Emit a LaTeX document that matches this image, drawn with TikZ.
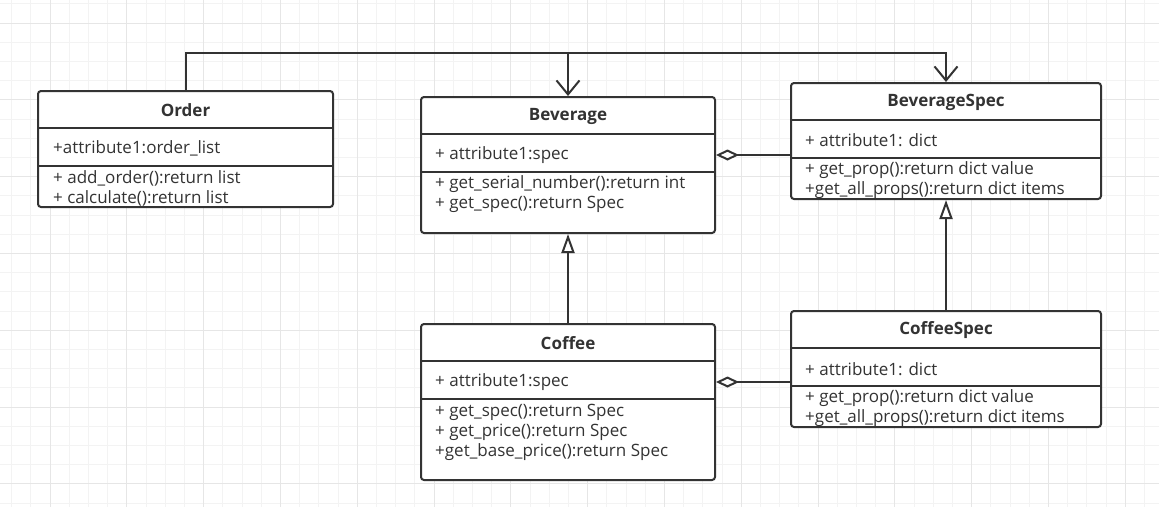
\documentclass[tikz,border=0pt]{standalone}
\usepackage{fontspec}
\setmainfont{Open Sans}
\usetikzlibrary{arrows.meta}
\definecolor{ink}{HTML}{333333}
\definecolor{gridMinor}{HTML}{F3F3F3}
\definecolor{gridMajor}{HTML}{E6E6E6}

\begin{document}
\begin{tikzpicture}[x=1pt,y=-1pt,
	classbox/.style={draw=ink, line width=2pt, rounded corners=3pt, fill=white, inner sep=0pt},
	clsname/.style={font=\fontsize{17}{19}\selectfont\bfseries, text=ink, inner sep=0pt},
	member/.style={font=\fontsize{17}{19}\selectfont, text=ink, anchor=west, inner sep=0pt},
	divider/.style={draw=ink, line width=2pt},
	assoc/.style={draw=ink, line width=2pt, -{Straight Barb[length=14pt,width=23pt]}},
	inherit/.style={draw=ink, line width=2pt, -{Triangle[open,length=19pt,width=13pt,fill=white]}},
	aggr/.style={draw=ink, line width=2pt, -{Diamond[open,length=23pt,width=11pt,fill=white]}}]

	\useasboundingbox (0,0) rectangle (1159,507);
	\fill[white] (0,0) rectangle (1159,507);
	\foreach \i in {0,...,60} \draw[gridMinor, line width=1pt] ({11.6+19.2*\i},0) -- ({11.6+19.2*\i},507);
	\foreach \i in {0,...,26} \draw[gridMinor, line width=1pt] (0,{3.8+19.2*\i}) -- (1159,{3.8+19.2*\i});
	\foreach \i in {0,...,15} \draw[gridMajor, line width=1pt] ({50+76.8*\i},0) -- ({50+76.8*\i},507);
	\foreach \i in {0,...,6} \draw[gridMajor, line width=1pt] (0,{23+76.8*\i}) -- (1159,{23+76.8*\i});

	\node[classbox, minimum width=295pt, minimum height=116pt] (order) at (185.5,149) {};
	\node[classbox, minimum width=294pt, minimum height=136pt] (bev) at (568,165) {};
	\node[classbox, minimum width=310pt, minimum height=116pt] (bspec) at (946,141) {};
	\node[classbox, minimum width=294pt, minimum height=156pt] (cof) at (568,402) {};
	\node[classbox, minimum width=310pt, minimum height=116pt] (cspec) at (946,369) {};

	\foreach \c in {order,bev,bspec,cof,cspec} {
		\draw[divider] ([yshift=-38pt]\c.north west) -- ([yshift=-38pt]\c.north east);
		\draw[divider] ([yshift=-76pt]\c.north west) -- ([yshift=-76pt]\c.north east);
	}

	\node[clsname] (lblOrder) at (185.5,110) {Order};
	\node[member] (ordAttr) at (53,148) {+attribute1:order\_list};
	\node[member] (ordM1) at (53,178) {+ add\_order():return list};
	\node[member] (ordM2) at (53,198) {+ calculate():return list};

	\node[clsname] (lblBev) at (568,116) {Beverage};
	\node[member] (bevAttr) at (435,155) {+ attribute1:spec};
	\node[member] (bevM1) at (435,184) {+ get\_serial\_number():return int};
	\node[member] (bevM2) at (435,204) {+ get\_spec():return Spec};

	\node[clsname] (lblBspec) at (946,102) {BeverageSpec};
	\node[member] (bspecAttr) at (805,140) {+ attribute1: dict};
	\node[member] (bspecM1) at (805,170) {+ get\_prop():return dict value};
	\node[member] (bspecM2) at (805,190) {+get\_all\_props():return dict items};

	\node[clsname] (lblCof) at (568,343) {Coffee};
	\node[member] (cofAttr) at (435,382) {+ attribute1:spec};
	\node[member] (cofM1) at (435,412) {+ get\_spec():return Spec};
	\node[member] (cofM2) at (435,432) {+ get\_price():return Spec};
	\node[member] (cofM3) at (435,452) {+get\_base\_price():return Spec};

	\node[clsname] (lblCspec) at (946,330) {CoffeeSpec};
	\node[member] (cspecAttr) at (805,369) {+ attribute1: dict};
	\node[member] (cspecM1) at (805,398) {+ get\_prop():return dict value};
	\node[member] (cspecM2) at (805,418) {+get\_all\_props():return dict items};

	\coordinate (bend) at (185.5,53);
	\draw[assoc] (order.north) -- (bend) -| (bspec.north);
	\draw[assoc] (bend -| bev.north) -- (bev.north);

	\draw[inherit] (cof.north) -- (bev.south);
	\draw[inherit] (cspec.north) -- (bspec.south);

	\draw[aggr] (bevAttr -| bspec.west) -- (bevAttr -| bev.east);
	\draw[aggr] (cofAttr -| cspec.west) -- (cofAttr -| cof.east);
\end{tikzpicture}
\end{document}
